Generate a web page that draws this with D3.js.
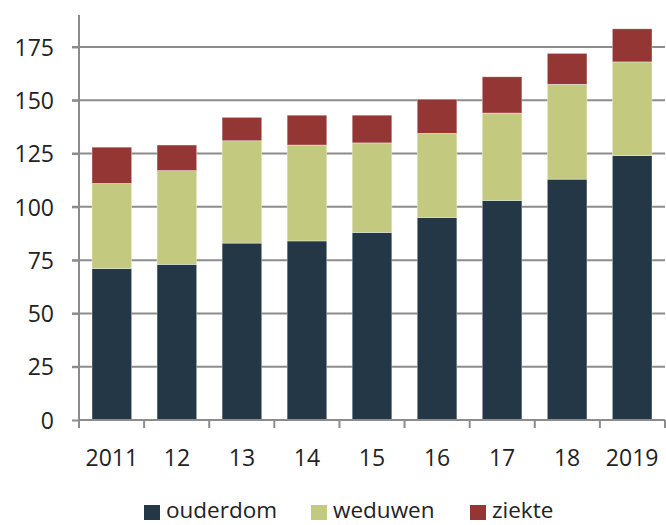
<!DOCTYPE html>
<html><head><meta charset="utf-8">
<script src="https://cdn.jsdelivr.net/npm/d3@7/dist/d3.min.js"></script>
<style>body{margin:0;background:#fff}svg{display:block}text{font-family:"Open Sans",sans-serif;fill:#222}</style>
</head><body><svg id="c" width="666" height="525"></svg>
<script>
const categories = ["2011","12","13","14","15","16","17","18","2019"];
const ouderdom = [71,73,83,84,88,95,103,113,124];
const weduwen  = [40,44,48,45,42,39.5,41,44.5,44];
const ziekte   = [17,12,11,14,13,16,17,14.5,15.5];
const seriesNames = ["ouderdom","weduwen","ziekte"];
const colors = ["#243746","#c3c97f","#943634"];
const yTicks = [0,25,50,75,100,125,150,175];

const svg = d3.select("#c");
const m = {l:79, r:1, t:15, b:105};
const W = 666, H = 525;
const x = d3.scaleBand().domain(categories).range([m.l, W - m.r]).paddingInner(0.39).paddingOuter(0.2);
const y = d3.scaleLinear().domain([0,190]).range([420, m.t]);

const table = categories.map((c,i)=>({cat:c, ouderdom:ouderdom[i], weduwen:weduwen[i], ziekte:ziekte[i]}));
const stack = d3.stack().keys(seriesNames)(table);

// gridlines
svg.append("g").selectAll("line").data(yTicks.filter(d=>d>0)).join("line")
  .attr("x1", m.l-7).attr("x2", W - m.r).attr("y1", d=>y(d)).attr("y2", d=>y(d))
  .attr("stroke","#8c8c8c").attr("stroke-width",2);

// bars
svg.append("g").selectAll("g").data(stack).join("g").attr("fill",(d,i)=>colors[i])
  .selectAll("rect").data(d=>d).join("rect")
  .attr("x", d=>x(d.data.cat)).attr("width", x.bandwidth())
  .attr("y", d=>y(d[1])).attr("height", d=>y(d[0])-y(d[1]))
  .attr("stroke","rgba(255,255,255,0.6)").attr("stroke-width",0.6);

// y axis
const ya = svg.append("g").attr("transform",`translate(${m.l},0)`)
  .call(d3.axisLeft(y).tickValues(yTicks).tickSize(7).tickPadding(18));
ya.select(".domain").attr("d", `M0,${m.t}V428`).attr("stroke","#8c8c8c").attr("stroke-width",2);
ya.selectAll(".tick line").attr("stroke","#8c8c8c").attr("stroke-width",2);
ya.selectAll("text").style("font-size","23px").attr("fill","#222").attr("dy","0.36em");

// x axis
const xa = svg.append("g").attr("transform",`translate(0,420)`)
  .call(d3.axisBottom(x).tickSize(0).tickPadding(30));
xa.select(".domain").attr("d", `M${m.l},0H${W-m.r}`).attr("stroke","#8c8c8c").attr("stroke-width",2);
xa.selectAll("text").style("font-size","23px").attr("fill","#222");
// tick marks at band boundaries
const bounds = d3.range(categories.length+1).map(i => m.l + i*(W-m.r-m.l)/categories.length);
xa.append("g").selectAll("line").data(bounds).join("line")
  .attr("x1", d=>d).attr("x2", d=>d).attr("y1",0).attr("y2",8)
  .attr("stroke","#8c8c8c").attr("stroke-width",2);

// legend
const legX = [144, 311, 470];
const lg = svg.append("g");
seriesNames.forEach((s,i)=>{
  lg.append("rect").attr("x",legX[i]).attr("y",505).attr("width",16).attr("height",15).attr("fill",colors[i]);
  lg.append("text").attr("x",legX[i]+22).attr("y",518).style("font-size","22.5px").text(s);
});
</script></body></html>
